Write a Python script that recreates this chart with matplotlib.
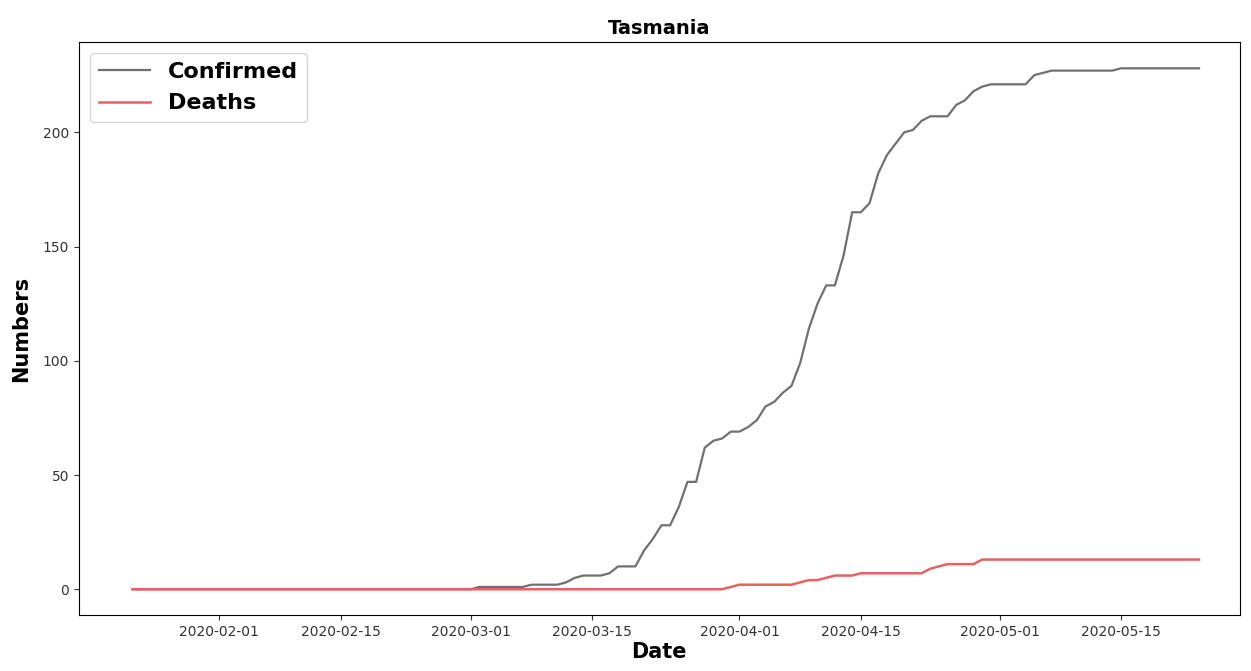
import pandas as pd
import matplotlib.pyplot as plt
import matplotlib.dates as mdates

# daily totals for Tasmania, 2020-01-22 .. 2020-05-24
dates = pd.date_range("2020-01-22", "2020-05-24", freq="D")

confirmed = [
    0, 0, 0, 0, 0, 0, 0, 0, 0, 0,
    0, 0, 0, 0, 0, 0, 0, 0, 0, 0,
    0, 0, 0, 0, 0, 0, 0, 0, 0, 0,
    0, 0, 0, 0, 0, 0, 0, 0, 0, 0,
    1, 1, 1, 1, 1, 1, 2, 2, 2, 2,
    3, 5, 6, 6, 6, 7, 10, 10, 10, 17,
    22, 28, 28, 36, 47, 47, 62, 65, 66, 69,
    69, 71, 74, 80, 82, 86, 89, 99, 114, 125,
    133, 133, 146, 165, 165, 169, 182, 190, 195, 200,
    201, 205, 207, 207, 207, 212, 214, 218, 220, 221,
    221, 221, 221, 221, 225, 226, 227, 227, 227, 227,
    227, 227, 227, 227, 228, 228, 228, 228, 228, 228,
    228, 228, 228, 228,
]

deaths = [
    0, 0, 0, 0, 0, 0, 0, 0, 0, 0,
    0, 0, 0, 0, 0, 0, 0, 0, 0, 0,
    0, 0, 0, 0, 0, 0, 0, 0, 0, 0,
    0, 0, 0, 0, 0, 0, 0, 0, 0, 0,
    0, 0, 0, 0, 0, 0, 0, 0, 0, 0,
    0, 0, 0, 0, 0, 0, 0, 0, 0, 0,
    0, 0, 0, 0, 0, 0, 0, 0, 0, 1,
    2, 2, 2, 2, 2, 2, 2, 3, 4, 4,
    5, 6, 6, 6, 7, 7, 7, 7, 7, 7,
    7, 7, 9, 10, 11, 11, 11, 11, 13, 13,
    13, 13, 13, 13, 13, 13, 13, 13, 13, 13,
    13, 13, 13, 13, 13, 13, 13, 13, 13, 13,
    13, 13, 13, 13,
]

fig = plt.figure(figsize=(12.51, 6.71), dpi=100)
ax = fig.add_axes([0.063, 0.083, 0.928, 0.854])

ax.plot(dates, confirmed, color="#707070", lw=1.6, label="Confirmed")
ax.plot(dates, deaths, color="#e86060", lw=1.8, label="Deaths")

start = dates[0]
ax.set_xlim(start - pd.Timedelta(days=6.2), start + pd.Timedelta(days=127.7))

ax.xaxis.set_major_locator(mdates.DayLocator(bymonthday=[1, 15]))
ax.xaxis.set_major_formatter(mdates.DateFormatter("%Y-%m-%d"))
ax.tick_params(labelsize=10, colors="#333333")

ax.set_title("Tasmania", fontsize=14, fontweight="bold")
ax.set_xlabel("Date", fontsize=15, fontweight="bold", labelpad=2)
ax.set_ylabel("Numbers", fontsize=15, fontweight="bold", labelpad=8)

ax.legend(loc="upper left", prop={"size": 16, "weight": "bold"},
          handlelength=2.3, handletextpad=0.8)

fig.savefig("out.png", dpi=100)
